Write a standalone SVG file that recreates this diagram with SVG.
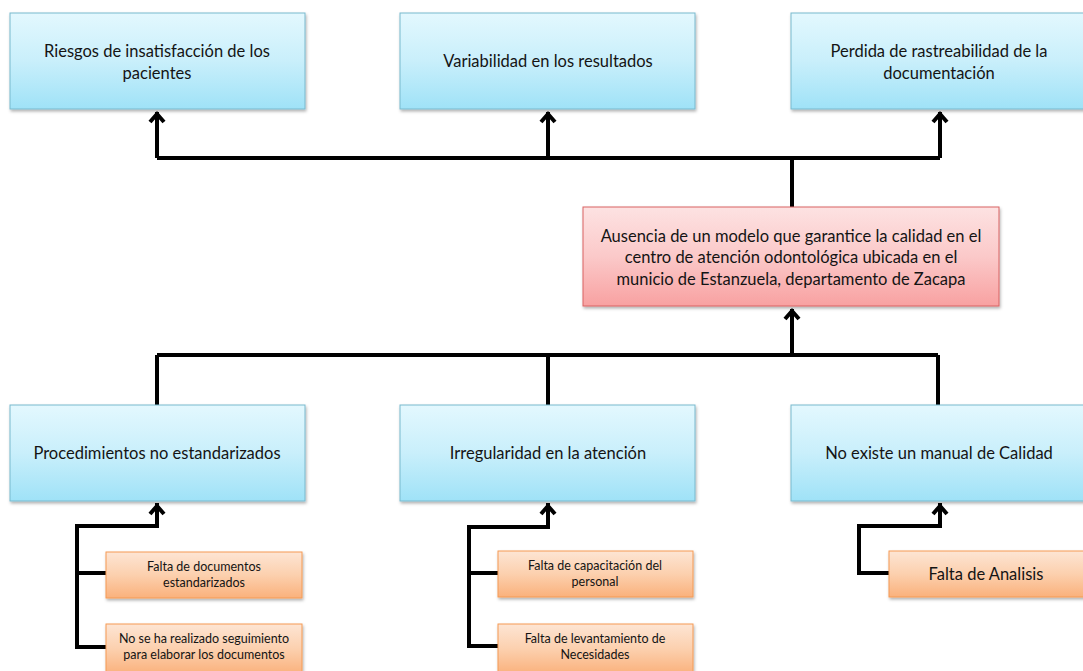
<svg xmlns="http://www.w3.org/2000/svg" width="1083" height="671" viewBox="0 0 1083 671">
<defs>
<linearGradient id="gBlue" x1="0" y1="0" x2="0" y2="1"><stop offset="0" stop-color="#e3f8fe"/><stop offset="0.5" stop-color="#c9effb"/><stop offset="1" stop-color="#9fe2f7"/></linearGradient>
<linearGradient id="gRed" x1="0" y1="0" x2="0" y2="1"><stop offset="0" stop-color="#fde2e2"/><stop offset="0.5" stop-color="#fbc9c9"/><stop offset="1" stop-color="#f8a1a1"/></linearGradient>
<linearGradient id="gOr" x1="0" y1="0" x2="0" y2="1"><stop offset="0" stop-color="#fde5d4"/><stop offset="0.5" stop-color="#fcd0ae"/><stop offset="1" stop-color="#fab17c"/></linearGradient>
<filter id="sh" x="-5%" y="-10%" width="110%" height="130%"><feDropShadow dx="1" dy="2" stdDeviation="1.5" flood-color="#000" flood-opacity="0.3"/></filter>
</defs>
<style>
.blue{fill:url(#gBlue);stroke:#78b9cd;stroke-width:1;filter:url(#sh)}
.red{fill:url(#gRed);stroke:#d96363;stroke-width:1;filter:url(#sh)}
.or{fill:url(#gOr);stroke:#f59a55;stroke-width:1;filter:url(#sh)}
.t{font-family:Lato,"Liberation Sans",sans-serif;font-size:16.5px;fill:#141414;text-anchor:middle}
.s{font-family:Lato,"Liberation Sans",sans-serif;font-size:12.5px;fill:#141414;text-anchor:middle}
.c{fill:none;stroke:#000;stroke-width:4;stroke-linejoin:miter}
.h{fill:none;stroke:#000;stroke-width:4;stroke-linejoin:miter;stroke-linecap:butt}
</style>
<rect width="1083" height="671" fill="#fff"/>
<g id="connectors">
<path class="c" d="M157 158H940M157 158V112M548 158V112M940 158V112M792 158V207"/>
<path class="h" d="M150 122L157 114L164 122M541 122L548 114L555 122M933 122L940 114L947 122"/>
<path class="c" d="M157 355H938M157 355V405M548 355V405M938 355V405M792 355V309"/>
<path class="h" d="M785 319L792 311L799 319"/>
<path class="c" d="M157 503V526H77V647H106M77 573H106"/>
<path class="h" d="M150 514L157 506L164 514"/>
<path class="c" d="M548 503V527H469V646H498M469 573H498"/>
<path class="h" d="M541 514L548 506L555 514"/>
<path class="c" d="M940 503V526H859V573H889"/>
<path class="h" d="M933 514L940 506L947 514"/>
</g>
<g id="n-riesgos"><rect class="blue" x="10" y="13" width="295" height="96"/><text class="t" x="157" y="57">Riesgos de insatisfacción de los</text><text class="t" x="157" y="79">pacientes</text></g>
<g id="n-variabilidad"><rect class="blue" x="400" y="13" width="295" height="96"/><text class="t" x="548" y="67">Variabilidad en los resultados</text></g>
<g id="n-perdida"><rect class="blue" x="791" y="13" width="300" height="96"/><text class="t" x="939" y="57">Perdida de rastreabilidad de la</text><text class="t" x="939" y="79">documentación</text></g>
<g id="n-ausencia"><rect class="red" x="583" y="207" width="416" height="99"/><text class="t" x="791" y="242">Ausencia de un modelo que garantice la calidad  en el</text><text class="t" x="791" y="263">centro de atención odontológica ubicada en el</text><text class="t" x="791" y="285">municio de Estanzuela, departamento de Zacapa</text></g>
<g id="n-procedimientos"><rect class="blue" x="10" y="405" width="295" height="96"/><text class="t" x="157" y="459">Procedimientos no estandarizados</text></g>
<g id="n-irregularidad"><rect class="blue" x="400" y="405" width="295" height="96"/><text class="t" x="548" y="459">Irregularidad en la atención</text></g>
<g id="n-manual"><rect class="blue" x="791" y="405" width="300" height="96"/><text class="t" x="939" y="459">No existe un manual de Calidad</text></g>
<g id="n-falta-doc"><rect class="or" x="106" y="552" width="196" height="46"/><text class="s" x="204" y="571">Falta de documentos</text><text class="s" x="204" y="587">estandarizados</text></g>
<g id="n-seguimiento"><rect class="or" x="106" y="624" width="196" height="50"/><text class="s" x="204" y="643">No se ha realizado seguimiento</text><text class="s" x="204" y="659">para elaborar los documentos</text></g>
<g id="n-capacitacion"><rect class="or" x="498" y="551" width="195" height="46"/><text class="s" x="595" y="570">Falta de capacitación del</text><text class="s" x="595" y="586">personal</text></g>
<g id="n-levantamiento"><rect class="or" x="498" y="624" width="195" height="50"/><text class="s" x="595" y="643">Falta de levantamiento de</text><text class="s" x="595" y="659">Necesidades</text></g>
<g id="n-analisis"><rect class="or" x="889" y="551" width="200" height="46"/><text class="t" x="986" y="580">Falta de Analisis</text></g>
</svg>
